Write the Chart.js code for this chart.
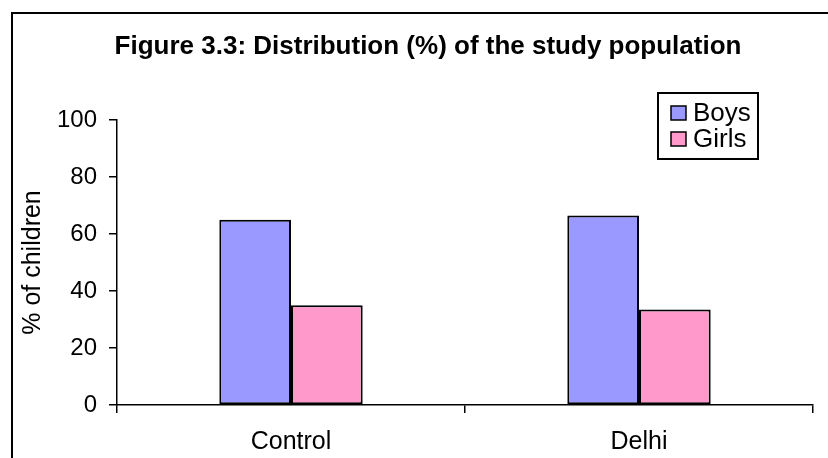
<!DOCTYPE html>
<html>
<head>
<meta charset="utf-8">
<script src="https://cdn.jsdelivr.net/npm/chart.js@4"></script>
<style>
  html,body{margin:0;padding:0;background:#fff}
  #wrap{position:relative;width:828px;height:458px;overflow:hidden}
  #frame{position:absolute;left:11px;top:12px;width:900px;height:600px;border:2px solid #000}
  #chart{position:absolute;left:0;top:0}
</style>
</head>
<body>
<div id="wrap">
  <div id="frame"></div>
  <canvas id="chart" width="828" height="458"></canvas>
</div>
<script>
// data
const groups = ['Control', 'Delhi'];
const boys = [65, 66.5];
const girls = [35, 33.5];
const yTicks = [0, 20, 40, 60, 80, 100];
const titleText = 'Figure 3.3: Distribution (%) of the study population';

const FONT = "'Liberation Sans', Arial, sans-serif";

// title + boxed legend drawn by hand, Excel style
const excelBits = {
  id: 'excelBits',
  afterDraw(chart) {
    const c = chart.ctx;
    c.save();
    c.fillStyle = '#000';
    c.font = 'bold 26px ' + FONT;
    c.textAlign = 'center';
    c.textBaseline = 'alphabetic';
    c.fillText(titleText, 428, 54);

    // legend box
    const lx = 658, ly = 93, lw = 100, lh = 66;
    c.fillStyle = '#fff';
    c.fillRect(lx, ly, lw, lh);
    c.strokeStyle = '#000';
    c.lineWidth = 2;
    c.strokeRect(lx, ly, lw, lh);
    c.font = '26px ' + FONT;
    c.textAlign = 'left';
    c.textBaseline = 'middle';
    chart.data.datasets.forEach((ds, i) => {
      const y = 106 + i * 26;
      c.fillStyle = ds.backgroundColor;
      c.fillRect(671, y, 15, 14);
      c.lineWidth = 1.5;
      c.strokeRect(671, y, 15, 14);
      c.fillStyle = '#000';
      c.fillText(ds.label, 693, y + 8);
    });
    c.restore();
  }
};

new Chart(document.getElementById('chart'), {
  type: 'bar',
  data: {
    labels: groups,
    datasets: [
      {label: 'Boys', data: boys, backgroundColor: '#9999ff', borderColor: '#000', borderWidth: 2, borderSkipped: false},
      {label: 'Girls', data: girls, backgroundColor: '#ff99cc', borderColor: '#000', borderWidth: 2, borderSkipped: false}
    ]
  },
  options: {
    responsive: false,
    animation: false,
    events: [],
    layout: {padding: {left: 0, right: 15, top: 120, bottom: 0}},
    datasets: {bar: {categoryPercentage: 0.412, barPercentage: 1.0}},
    plugins: {legend: {display: false}, title: {display: false}, tooltip: {enabled: false}},
    scales: {
      x: {
        grid: {drawOnChartArea: false, drawTicks: true, tickLength: 8, color: '#000', lineWidth: 1.5, offset: true},
        border: {display: true, color: '#000', width: 1.5},
        ticks: {color: '#000', font: {family: FONT, size: 25}, padding: 14, maxRotation: 0},
        afterFit: s => { s.height = 53; }
      },
      y: {
        min: 0, max: 100,
        afterBuildTicks: s => { s.ticks = yTicks.map(v => ({value: v})); },
        grid: {drawOnChartArea: false, drawTicks: true, tickLength: 8, color: '#000', lineWidth: 1.5},
        border: {display: true, color: '#000', width: 1.5},
        ticks: {color: '#000', font: {family: FONT, size: 24}, padding: 12},
        title: {display: true, text: '% of children', color: '#000', font: {family: FONT, size: 25}, padding: {top: 18, bottom: 0}},
        afterFit: s => { s.width = 117; }
      }
    }
  },
  plugins: [excelBits]
});
</script>
</body>
</html>
